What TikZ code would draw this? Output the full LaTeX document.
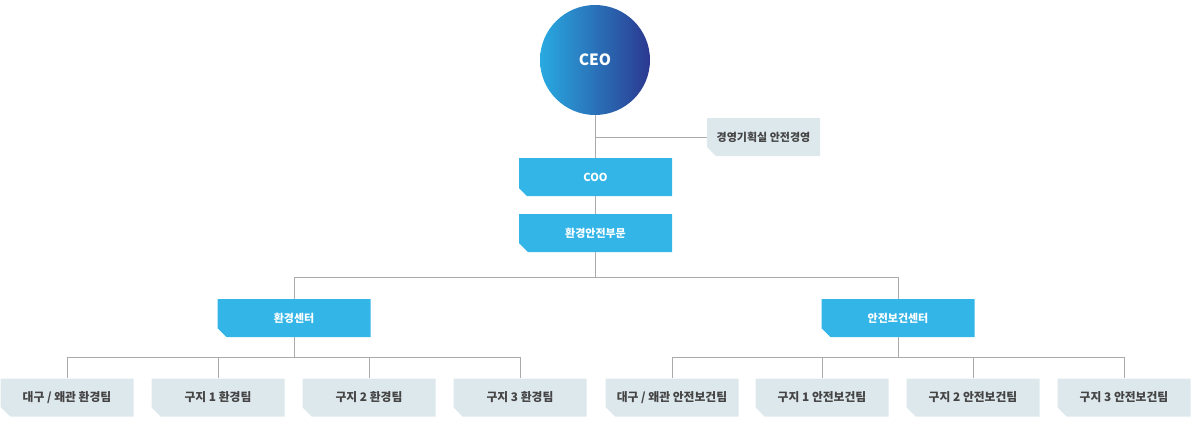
\documentclass[tikz,border=0pt]{standalone}
\usepackage{fontspec}
\setmainfont{Noto Sans CJK KR}
\usetikzlibrary{shapes.misc,positioning}
\definecolor{skyblue}{HTML}{33B5E8}
\definecolor{paleblue}{HTML}{DDE8EC}
\definecolor{linegray}{HTML}{AAAAAA}
\definecolor{txtgray}{HTML}{444444}
\definecolor{ceoleft}{HTML}{29AAE1}
\definecolor{ceoright}{HTML}{2B3990}

\begin{document}
\begin{tikzpicture}[x=1pt,y=-1pt,font=\bfseries,
  unit/.style={chamfered rectangle,chamfered rectangle corners=south west,
    chamfered rectangle xsep=6pt,inner sep=0pt,fill=#1,minimum height=38pt},
  hq/.style={unit=skyblue,minimum width=153pt,text=white,font=\fontsize{11}{13}\bfseries},
  team/.style={unit=paleblue,minimum width=133pt,text=txtgray,font=\fontsize{11.8}{14}\bfseries},
  link/.style={draw=linegray,line width=1pt}]
  \useasboundingbox (0,0) rectangle (1200,428);
  % top
  \node[circle,minimum size=110pt,inner sep=0pt,left color=ceoleft,right color=ceoright,
    text=white,font=\fontsize{15.5}{18}\bfseries] (ceo) at (595,60) {CEO};
  \node[team,minimum width=113pt,font=\fontsize{11}{13}\bfseries] (plan) at (763.5,137) {경영기획실 안전경영};
  \node[hq] (coo) at (595.5,177) {COO};
  \node[hq] (div) at (595.5,233) {환경안전부문};
  % centers
  \node[hq] (envc) at (294,318) {환경센터};
  \node[hq] (safc) at (898,318) {안전보건센터};
  % teams
  \foreach \x/\t [count=\i] in {67/{대구 / 왜관 환경팀},218/{구지 1 환경팀},369/{구지 2 환경팀},520/{구지 3 환경팀}}
    \node[team] (e\i) at (\x,397.5) {\t};
  \foreach \x/\t [count=\i] in {672/{대구 / 왜관 안전보건팀},822/{구지 1 안전보건팀},973/{구지 2 안전보건팀},1124/{구지 3 안전보건팀}}
    \node[team] (s\i) at (\x,397.5) {\t};
  % links
  \draw[link] (ceo.south) -- (ceo.south |- coo.north);
  \draw[link] (ceo.south |- plan.west) -- (plan.west);
  \draw[link] (coo.south) -- (div.north);
  \draw[link] (div.south) -- ++(0,25) -| (envc.north);
  \draw[link] (div.south) -- ++(0,25) -| (safc.north);
  \foreach \i in {1,...,4} {
    \draw[link] (envc.south) -- ++(0,20) -| (e\i.north);
    \draw[link] (safc.south) -- ++(0,20) -| (s\i.north);
  }
\end{tikzpicture}
\end{document}
